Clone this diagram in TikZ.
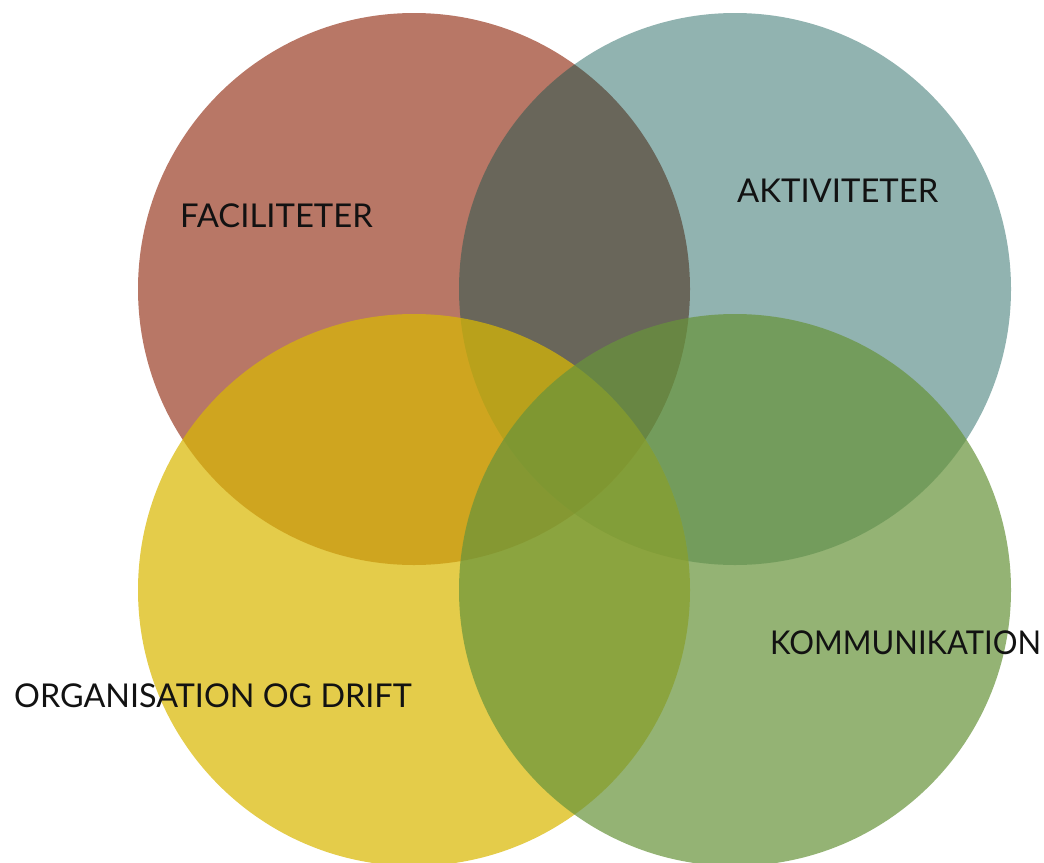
\documentclass[tikz,border=0pt]{standalone}
\usepackage{fontspec}
\usepackage{graphicx}
\setmainfont{Lato}
\definecolor{cred}{RGB}{184,119,102}
\definecolor{cteal}{RGB}{5,82,76}
\definecolor{cyellow}{RGB}{217,184,4}
\definecolor{cgreen}{RGB}{104,148,59}
\begin{document}
\begin{tikzpicture}[x=1pt,y=-1pt,
  lbl/.style={anchor=base west,inner sep=0pt,text=black!93,font=\fontsize{32.8}{40}\selectfont}]
\useasboundingbox (0,0) rectangle (1044,862);
\begin{scope}
\clip (0,0) rectangle (1044,862);
\fill[cred] (414,289) circle[radius=276];
\fill[cteal,fill opacity=0.44] (735,289) circle[radius=276];
\fill[cyellow,fill opacity=0.72] (414,590) circle[radius=276];
\fill[cgreen,fill opacity=0.71] (735,590) circle[radius=276];
\end{scope}
\node[lbl] (fac) at (180,227) {FACILITETER};
\node[lbl] (akt) at (737,202) {AKTIVITETER};
\node[lbl] (kom) at (770,654) {\scalebox{0.943}[1]{KOMMUNIKATION}};
\node[lbl] (org) at (14,707) {\scalebox{0.985}[1]{ORGANISATION OG DRIFT}};
\end{tikzpicture}
\end{document}
